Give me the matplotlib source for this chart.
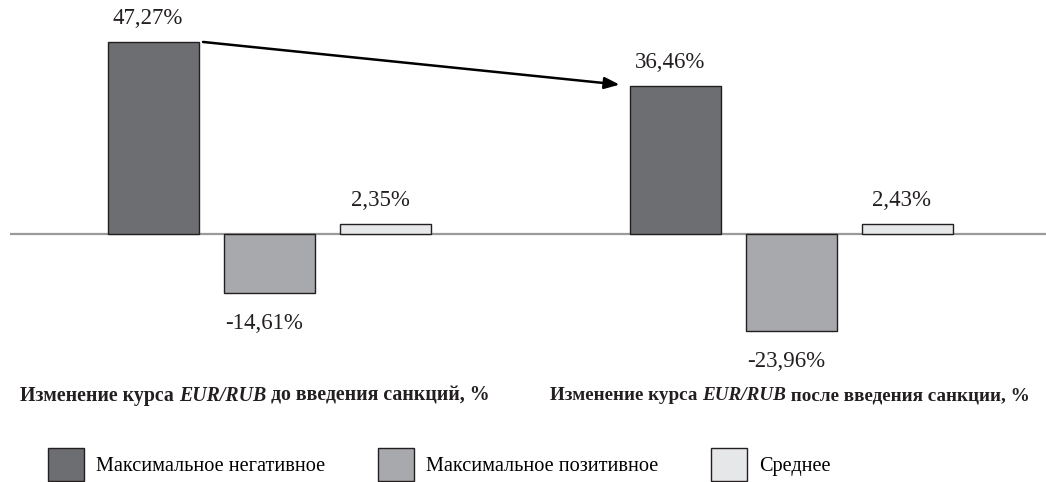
import matplotlib
matplotlib.use("Agg")
import matplotlib.pyplot as plt
from matplotlib.patches import Patch

plt.rcParams['font.family'] = ['Liberation Serif', 'DejaVu Serif']

series = ["Максимальное негативное", "Максимальное позитивное", "Среднее"]
before = [47.27, -14.61, 2.35]
after = [36.46, -23.96, 2.43]
labels_before = ["47,27%", "-14,61%", "2,35%"]
labels_after = ["36,46%", "-23,96%", "2,43%"]
colors = ["#6d6e71", "#a7a9ac", "#e6e7e8"]

W, H = 1046, 482
fig = plt.figure(figsize=(W / 100, H / 100), dpi=100)
ax = fig.add_axes([10 / W, 1 - 370 / H, (W - 10) / W, 370 / H])

x_before = [0, 1, 2]
x_after = [4.5, 5.5, 6.5]
width = 0.784

ax.axhline(0, color="#9a9a9a", lw=1.6, zorder=1)
for i in range(3):
    for xs, vals, labs in ((x_before, before, labels_before), (x_after, after, labels_after)):
        ax.bar(xs[i], vals[i], width=width, color=colors[i], edgecolor="#231f20",
               linewidth=1.0, zorder=2)
        v = vals[i]
        off = 17 if v > 0 else -22
        ax.annotate(labs[i], (xs[i], v), xytext=(-4, off), textcoords="offset points",
                    ha="center", va="center", fontsize=16.5, color="#231f20")

ax.set_xlim(-1.237, 7.694)
ax.set_ylim(-33.5, 57.6)
ax.axis("off")

ax.annotate("", xy=(x_after[0] - width / 2 - 0.09, after[0] + 0.3),
            xytext=(x_before[0] + width / 2 + 0.035, before[0]),
            arrowprops=dict(arrowstyle="-|>,head_length=0.9,head_width=0.35",
                            color="black", lw=1.8, shrinkA=0, shrinkB=0))

# group titles (bold with bold-italic segment)
fig.canvas.draw()
renderer = fig.canvas.get_renderer()

def seg_title(cx, y, parts, size):
    texts = []
    for s, style in parts:
        t = fig.text(0, y, s, fontsize=size, fontweight="bold", fontstyle=style,
                     ha="left", va="center", color="#231f20")
        texts.append(t)
    widths = [t.get_window_extent(renderer).width for t in texts]
    total = sum(widths)
    x = cx - total / 2
    for t, w in zip(texts, widths):
        t.set_x(x / W)
        x += w

ty = 1 - 396 / H
seg_title(255, ty, [("Изменение курса ", "normal"), ("EUR/RUB", "italic"),
                    (" до введения санкций, %", "normal")], 14.3)
seg_title(790, ty, [("Изменение курса ", "normal"), ("EUR/RUB", "italic"),
                    (" после введения санкции, %", "normal")], 13.8)

handles = [Patch(facecolor=c, edgecolor="#231f20", linewidth=1.0) for c in colors]
fig.legend(handles, series, loc="lower left", bbox_to_anchor=(48 / W, 1 / H),
           ncol=3, frameon=False, fontsize=14.6, handlelength=1.77, handleheight=2.1,
           handletextpad=0.6, columnspacing=2.6, borderpad=0, borderaxespad=0)

fig.savefig("out.png", dpi=100)
